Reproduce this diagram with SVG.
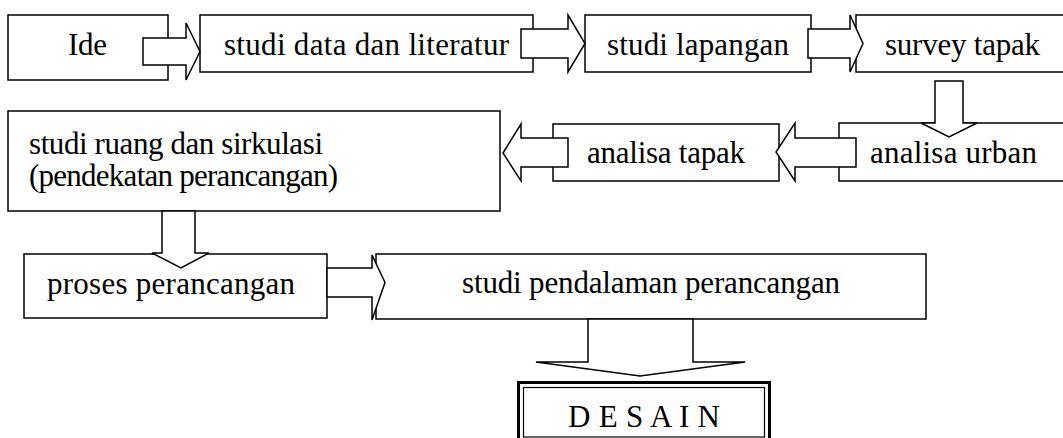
<svg xmlns="http://www.w3.org/2000/svg" width="1063" height="438" viewBox="0 0 1063 438">
<style>
.box{fill:#fff;stroke:#000;stroke-width:1.5}
.arr{fill:#fff;stroke:#000;stroke-width:1.5;stroke-linejoin:miter}
.t{font-family:"Liberation Serif","Times New Roman",serif;font-size:31px;fill:#000}
</style>
<rect width="1063" height="438" fill="#fff"/>
<g id="ide"><rect class="box" x="8" y="15" width="160" height="65"/><text class="t" x="68" y="55" textLength="39">Ide</text></g>
<g id="studi-data"><rect class="box" x="200" y="15" width="333" height="57"/><text class="t" x="224" y="55" textLength="285">studi data dan literatur</text></g>
<g id="studi-lapangan"><rect class="box" x="585" y="15" width="226" height="57"/><text class="t" x="607" y="55" textLength="182">studi lapangan</text></g>
<g id="survey-tapak"><rect class="box" x="856" y="15" width="214" height="57"/><text class="t" x="885" y="55" textLength="155">survey tapak</text></g>
<g id="studi-ruang"><rect class="box" x="8" y="111" width="492" height="100"/><text class="t" x="29" y="154" textLength="294">studi ruang dan sirkulasi</text><text class="t" x="29" y="186" textLength="309">(pendekatan perancangan)</text></g>
<g id="analisa-tapak"><rect class="box" x="553" y="124" width="226" height="57"/><text class="t" x="587" y="163" textLength="158">analisa tapak</text></g>
<g id="analisa-urban"><rect class="box" x="839" y="123" width="231" height="58"/><text class="t" x="870" y="163" textLength="167">analisa urban</text></g>
<g id="proses"><rect class="box" x="24" y="254" width="303" height="64"/><text class="t" x="47" y="294" textLength="248">proses perancangan</text></g>
<g id="studi-pendalaman"><rect class="box" x="376" y="254" width="550" height="65"/><text class="t" x="462" y="293" textLength="378">studi pendalaman perancangan</text></g>
<g id="desain"><rect x="518.5" y="382.5" width="251" height="70" fill="#fff" stroke="#000" stroke-width="3"/><rect x="523.5" y="387.5" width="241" height="49.5" fill="none" stroke="#000" stroke-width="1.2"/><text class="t" x="568" y="427" textLength="152">D E S A I N</text></g>
<g id="connectors">
<polygon class="arr" points="143,38 186,38 186,23 200,51.5 186,80 186,65 143,65"/>
<polygon class="arr" points="521,29 568,29 568,15 585,43.5 568,72 568,58 521,58"/>
<polygon class="arr" points="808,29 850,29 850,15 863,43.5 850,72 850,58 808,58"/>
<polygon class="arr" points="935,81 963,81 963,123 977,123 949,137 921,123 935,123"/>
<polygon class="arr" points="856,138 795,138 795,123 776,152 795,181 795,167 856,167"/>
<polygon class="arr" points="568,138 521,138 521,124 503,153 521,181 521,167 568,167"/>
<polygon class="arr" points="162,211 195,211 195,253 209,253 181,268 152,253 162,253"/>
<polygon class="arr" points="327,268 372,268 372,255 385,282.5 372,320 372,297 327,297"/>
<polygon class="arr" points="588,319 693,319 693,362 745,362 640,376 536,362 588,362"/>
</g>
</svg>
